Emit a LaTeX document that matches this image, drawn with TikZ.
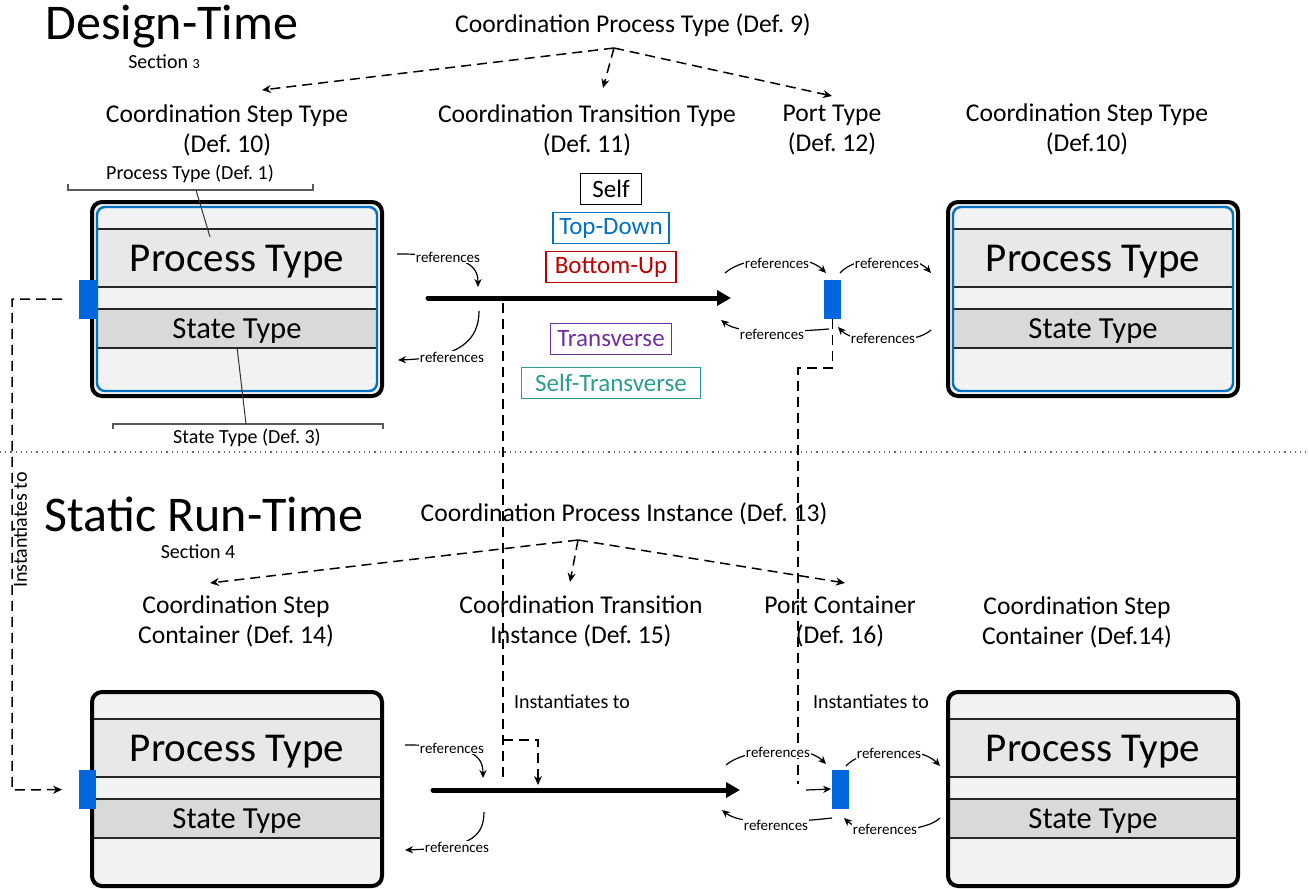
\documentclass[tikz,border=0pt]{standalone}
\usepackage{fontspec}
\setmainfont{Carlito}
\frenchspacing
\usetikzlibrary{positioning}
\usetikzlibrary{arrows.meta}
\usetikzlibrary{calc}

\definecolor{portblue}{RGB}{0,102,221}
\definecolor{rimblue}{RGB}{0,112,192}
\definecolor{lightband}{RGB}{242,242,242}
\definecolor{ptfill}{RGB}{232,232,232}
\definecolor{stfill}{RGB}{217,217,217}
\definecolor{tdblue}{RGB}{0,112,192}
\definecolor{bured}{RGB}{192,0,0}
\definecolor{trpurple}{RGB}{112,48,160}
\definecolor{stteal}{RGB}{42,157,143}

\begin{document}
\begin{tikzpicture}[x=0.5pt, y=-0.5pt,
	title/.style={font=\fontsize{25}{30}\selectfont, inner sep=0pt},
	seclbl/.style={font=\fontsize{10}{12}\selectfont, inner sep=0pt},
	deflbl/.style={font=\fontsize{12.8}{15}\selectfont, align=center},
	brlbl/.style={font=\fontsize{10}{12}\selectfont},
	reflbl/.style={font=\fontsize{7.5}{9}\selectfont, fill=white, inner sep=0.6pt},
	ptlbl/.style={font=\fontsize{20.5}{24}\selectfont},
	stlbl/.style={font=\fontsize{15.3}{18}\selectfont},
	typebox/.style={draw, line width=0.6pt, font=\fontsize{12.5}{15}\selectfont, minimum height=15.5pt, inner xsep=2pt, inner ysep=0pt},
	port/.style={fill=portblue, minimum width=8.5pt, minimum height=19.5pt, inner sep=0pt},
	dashline/.style={line width=0.75pt, dash pattern=on 5pt off 3pt},
	defarrow/.style={dashline, -{Stealth[length=4.5pt,width=4pt]}},
	refarrow/.style={line width=0.6pt, -{Stealth[length=4pt,width=3.6pt]}},
	flow/.style={line width=2.5pt, line cap=round, -{Triangle[length=7pt,width=7.5pt]}},
	bracket/.style={line width=0.6pt, draw=black!65},
	leader/.style={line width=0.5pt, draw=black!80},
	band/.style={line width=0.75pt, draw=black!85},
	frame/.style={line width=2pt, rounded corners=5pt}]

	\useasboundingbox (0,0) rectangle (1309,888);

	% the two layers
	\node[title] (dt) at (172,27) {Design-Time};
	\node[seclbl] (dt-sec) at (164,62) {Section {\fontsize{7}{8}\selectfont 3}};
	\node[title] (srt) at (204,514) {Static Run-Time};
	\node[seclbl] (srt-sec) at (198,552) {Section 4};
	\draw[black!60, line width=0.6pt, dotted] (0,452) -- (1309,452);

	% definition labels
	\node[deflbl] (cpt) at (633,25) {Coordination Process Type (Def. 9)};
	\node[deflbl] (cst-l) at (227,130) {Coordination Step Type\\(Def. 10)};
	\node[deflbl] (ctt) at (587,130) {Coordination Transition Type\\(Def. 11)};
	\node[deflbl] (ptt) at (832,130) {Port Type\\(Def. 12)};
	\node[deflbl] (cst-r) at (1087,129) {Coordination Step Type\\(Def.10)};
	\node[deflbl] (cpi) at (624,514) {Coordination Process Instance (Def. 13)};
	\node[deflbl] (csc-l) at (236,621) {Coordination Step\\Container (Def. 14)};
	\node[deflbl] (cti) at (581,621) {Coordination Transition\\Instance (Def. 15)};
	\node[deflbl] (pct) at (840,621) {Port Container\\(Def. 16)};
	\node[deflbl] (csc-r) at (1077,622) {Coordination Step\\Container (Def.14)};

	\coordinate (cpt-fork) at (614,48);
	\coordinate (cpi-fork) at (578,540);
	\foreach \c/\x/\y in {cst-l/262/90, ctt/603/88, ptt/832/96}
		{\coordinate (\c-in) at (\x,\y); \draw[defarrow] (cpt-fork) -- (\c-in);}
	\foreach \c/\x/\y in {csc-l/210/583, cti/570/582, pct/845/583}
		{\coordinate (\c-in) at (\x,\y); \draw[defarrow] (cpi-fork) -- (\c-in);}

	% step boxes
	\foreach \n/\x/\y/\ins/\rim in {ul/92/202/5/rimblue, ur/948/202/5/rimblue, ll/92/692/1/none, lr/948/692/1/none}{
		\fill[lightband, rounded corners=5pt] (\x,\y) rectangle ++(290,194);
		\fill[ptfill] ({\x+\ins},{\y+27}) rectangle ({\x+290-\ins},{\y+85});
		\fill[stfill] ({\x+\ins},{\y+107}) rectangle ({\x+290-\ins},{\y+146});
		\foreach \r in {27,85,107,146}
			\draw[band] ({\x+\ins},{\y+\r}) -- ({\x+290-\ins},{\y+\r});
		\draw[draw=\rim, line width=1.2pt, rounded corners=4pt] ({\x+5},{\y+5}) rectangle ({\x+285},{\y+189});
		\draw[frame] (\x,\y) rectangle ++(290,194);
		\node[ptlbl] (\n-pt) at ({\x+145},{\y+60}) {Process Type};
		\node[stlbl] (\n-st) at ({\x+145},{\y+129}) {State Type};
	}

	% ports
	\node[port] (ul-port) at (87,299) {};
	\node[port] (ll-port) at (87,789.5) {};
	\node[port] (ur-port) at (832.5,299.5) {};
	\node[port] (lr-port) at (840,789) {};

	% sub-definitions of the step type
	\node[brlbl] (pdef) at (190,174) {Process Type (Def. 1)};
	\draw[bracket] (68,184) -- (68,190) -- (313,190) -- (313,184);
	\coordinate (pdef-tip) at (196,190);
	\coordinate (pdef-end) at (210,237);
	\draw[leader] (pdef-tip) -- (pdef-end);
	\node[brlbl] (sdef) at (247,438) {State Type (Def. 3)};
	\draw[bracket] (113,429) -- (113,424) -- (383,424) -- (383,429);
	\coordinate (sdef-tip) at (246,424);
	\coordinate (sdef-end) at (237,347);
	\draw[leader] (sdef-end) -- (sdef-tip);

	% transition kinds
	\foreach \n/\y/\c/\w/\t in {self/189/black/30.5/Self, td/228/tdblue/58/Top-Down, bu/267/bured/65/Bottom-Up, tr/339/trpurple/60.5/Transverse, st/383/stteal/89.5/Self-Transverse}
		\node[typebox, color=\c, minimum width=\w pt] (t-\n) at (611,\y) {\t};

	% transitions
	\coordinate (ta-s) at (428,298);
	\coordinate (ta-e) at (731,298);
	\draw[flow] (ta-s) -- (ta-e);
	\coordinate (ti-s) at (433,790);
	\coordinate (ti-e) at (740,790);
	\draw[flow] (ti-s) -- (ti-e);

	% instantiation
	\coordinate (inst-corner) at (12,790);
	\draw[defarrow, shorten <=8pt, shorten >=8pt] (ul-port.west) -| (inst-corner) -- (ll-port.west);
	\node[brlbl, rotate=90] (inst-l) at (20,530) {Instantiates to};

	\coordinate (ti-top) at (503,303);
	\coordinate (ti-low) at (503,782);
	\coordinate (ti-knee) at (503,740);
	\coordinate (ti-drop) at (538,785);
	\draw[dashline] (ti-top) -- (ti-low);
	\draw[defarrow] (ti-knee) -| (ti-drop);
	\node[brlbl, anchor=west] (inst-t) at (507,702) {Instantiates to};

	\coordinate (pc-knee) at (798,368);
	\coordinate (pc-low) at (798,784);
	\coordinate (pc-in) at (806,790);
	\draw[dashline] (ur-port.south) |- (pc-knee) -- (pc-low);
	\draw[refarrow] (pc-in) -- (lr-port.west);
	\node[brlbl, anchor=west] (inst-p) at (806,702) {Instantiates to};

	% references
	\foreach \sx/\sy/\ax/\ay/\bx/\by/\ex/\ey/\lx/\ly [count=\i] in {
		397/254/460/254/478/262/478/287/448/257,
		479/311/479/340/460/358/398/360/452/357,
		725/273/745/255/805/252/826/273/777/263,
		840/273/855/255/912/252/931/273/887/263,
		931/330/915/345/855/345/838/327/883/338,
		829/329/790/332/740/335/721/320/772/334,
		405/745/468/745/483/753/483/778/452/748,
		484/812/484/840/465/848/405/850/457/847,
		726/765/746/748/806/744/826/764/778/752,
		846/766/861/748/920/745/940/766/889/753,
		940/818/925/833/862/835/844/818/885/829,
		832/818/795/822/742/826/722/810/776/825}{
		\coordinate (rs\i) at (\sx,\sy);
		\coordinate (re\i) at (\ex,\ey);
		\draw[refarrow] (rs\i) .. controls (\ax,\ay) and (\bx,\by) .. (re\i);
		\node[reflbl] (rl\i) at (\lx,\ly) {references};
	}
\end{tikzpicture}
\end{document}
